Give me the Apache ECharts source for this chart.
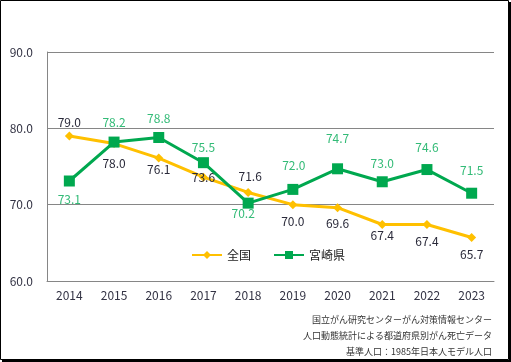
<!DOCTYPE html>
<html>
<head>
<meta charset="utf-8">
<script src="https://cdn.jsdelivr.net/npm/echarts@6/dist/echarts.min.js"></script>
<style>
html,body{margin:0;padding:0;background:#fff;}
#c{width:511px;height:362px;}
</style>
</head>
<body>
<div id="c"></div>
<script>
const years = ['2014','2015','2016','2017','2018','2019','2020','2021','2022','2023'];
const zenkoku = [79.0, 78.0, 76.1, 73.6, 71.6, 70.0, 69.6, 67.4, 67.4, 65.7];
const miyazaki = [73.1, 78.2, 78.8, 75.5, 70.2, 72.0, 74.7, 73.0, 74.6, 71.5];
const yTicks = [60, 70, 80, 90];
const sourceNotes = [
  '国立がん研究センターがん対策情報センター',
  '人口動態統計による都道府県別がん死亡データ',
  '基準人口：1985年日本人モデル人口'
];

// label placement (styling only)
const zenkokuLabelOffset = [[0,-14],[0,20],[0,11],[0,0],[2,-16],[0,17],[0,16],[0,11],[0,17],[0,17]];
const miyazakiLabelOffset = [[0,18],[0,-20],[0,-19],[0,-15],[-5,10],[1,-24],[0,-30],[0,-18],[0,-22],[0,-23]];

const FONT = '"Noto Sans CJK JP", "DejaVu Sans", sans-serif';

function withLabels(vals, offs) {
  return vals.map((v, i) => ({
    value: v,
    label: { offset: offs[i] }
  }));
}

const chart = echarts.init(document.getElementById('c'), null, { renderer: 'canvas' });
chart.setOption({
  animation: false,
  backgroundColor: '#fff',
  textStyle: { fontFamily: FONT },
  grid: { left: 47, right: 17, top: 52, bottom: 81, containLabel: false },
  xAxis: {
    type: 'category',
    data: years,
    boundaryGap: true,
    axisLine: { show: true, lineStyle: { color: '#868686', width: 1 } },
    axisTick: { show: false },
    axisLabel: { color: '#333344', fontSize: 12, margin: 8, fontFamily: FONT }
  },
  yAxis: {
    type: 'value',
    min: yTicks[0],
    max: yTicks[yTicks.length - 1],
    interval: 10,
    axisLine: { show: true, lineStyle: { color: '#868686', width: 1 } },
    axisTick: { show: false },
    splitLine: { show: true, lineStyle: { color: '#868686', width: 1 } },
    axisLabel: { color: '#333344', fontSize: 12, margin: 14, fontFamily: FONT,
      formatter: v => v.toFixed(1) }
  },
  legend: {
    left: 186,
    top: 244,
    itemWidth: 30,
    itemHeight: 10,
    itemGap: 22,
    textStyle: { color: '#222', fontSize: 12, fontFamily: FONT },
    data: ['全国', '宮崎県']
  },
  series: [
    {
      name: '全国',
      type: 'line',
      data: withLabels(zenkoku, zenkokuLabelOffset),
      symbol: 'diamond',
      symbolSize: 9,
      lineStyle: { color: '#FFC000', width: 3 },
      itemStyle: { color: '#FFC000' },
      label: { show: true, position: 'inside', color: '#2a2a3a', fontSize: 12, fontFamily: FONT,
        formatter: p => p.value.toFixed(1) },
      z: 2
    },
    {
      name: '宮崎県',
      type: 'line',
      data: withLabels(miyazaki, miyazakiLabelOffset),
      symbol: 'rect',
      symbolSize: 11,
      lineStyle: { color: '#00A84F', width: 3 },
      itemStyle: { color: '#00A84F' },
      label: { show: true, position: 'inside', color: '#33BB77', fontSize: 12, fontFamily: FONT,
        formatter: p => p.value.toFixed(1) },
      z: 3
    }
  ],
  graphic: [
    { type: 'rect', shape: { x: 0.5, y: 0.5, width: 508, height: 359 },
      style: { fill: 'none', stroke: '#000', lineWidth: 1 }, silent: true },
    { type: 'rect', shape: { x: 509, y: 2, width: 2, height: 360 }, style: { fill: '#000' }, silent: true },
    { type: 'rect', shape: { x: 2, y: 360, width: 509, height: 2 }, style: { fill: '#000' }, silent: true },
  ].concat(sourceNotes.map((t, i) => ({
    type: 'text',
    right: 19,
    top: 315 + i * 16,
    style: { text: t, fill: '#333', font: '9px ' + FONT, textAlign: 'right' },
    silent: true
  })))
});
</script>
</body>
</html>
